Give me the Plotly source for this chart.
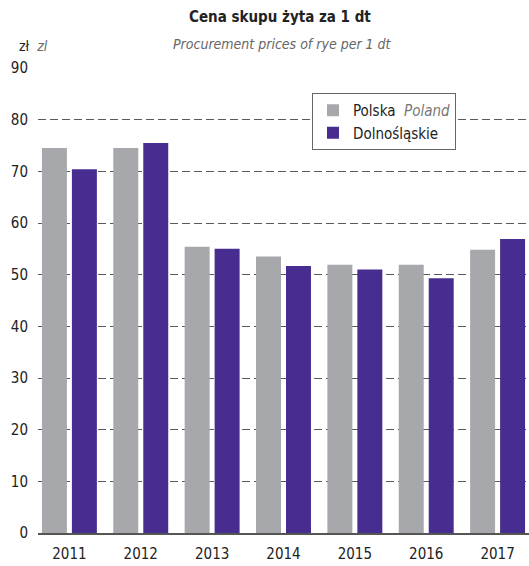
import plotly.graph_objects as go

years = ["2011", "2012", "2013", "2014", "2015", "2016", "2017"]
polska = [74.5, 74.5, 55.4, 53.5, 51.9, 51.9, 54.8]
dolnoslaskie = [70.4, 75.5, 55.0, 51.7, 51.0, 49.3, 56.9]
y_ticks = [0, 10, 20, 30, 40, 50, 60, 70, 80, 90]

FONT = "DejaVu Sans Condensed, DejaVu Sans, sans-serif"
GRAY = "#A7A8AB"
PURPLE = "#472D90"

xpos = list(range(len(years)))

fig = go.Figure()
fig.add_trace(go.Bar(
    x=xpos, y=polska, name='Polska  <span style="color:#777777"><i>Poland</i></span>',
    marker=dict(color=GRAY, line=dict(width=0)),
    width=0.35, offset=-0.385,
))
fig.add_trace(go.Bar(
    x=xpos, y=dolnoslaskie, name="Dolnośląskie",
    marker=dict(color=PURPLE, line=dict(width=0)),
    width=0.35, offset=0.035,
))

pw = 529 - 38
ph = 566 - 68 - 33

fig.update_layout(
    width=529, height=566,
    margin=dict(l=38, r=0, t=68, b=33, autoexpand=False),
    paper_bgcolor="white", plot_bgcolor="white",
    barmode="overlay",
    showlegend=True,
    font=dict(family=FONT, size=15, color="#222222"),
    legend=dict(
        x=(312 - 38) / pw, y=1 - (93 - 68) / ph, xanchor="left", yanchor="top",
        bgcolor="white", bordercolor="#666666", borderwidth=1,
        font=dict(family=FONT, size=15, color="#222222"),
        tracegroupgap=2, itemwidth=30,
    ),
    xaxis=dict(
        tickmode="array", tickvals=xpos, ticktext=years,
        range=[-0.44, 6.44], automargin=False,
        showgrid=False, zeroline=False,
        showline=True, linecolor="#555555", linewidth=1.5,
        ticks="", tickfont=dict(family=FONT, size=15, color="#222222"),
        ticklabelstandoff=6,
    ),
    yaxis=dict(
        range=[0, 90], tickvals=y_ticks, automargin=False,
        showgrid=True, gridcolor="#5a5a5a", gridwidth=1.3, griddash="8px,4px",
        zeroline=False, showline=False, ticks="",
        tickfont=dict(family=FONT, size=15, color="#222222"),
        ticklabelstandoff=9,
    ),
)

fig.add_annotation(
    text="<b>Cena skupu żyta za 1 dt</b>", xref="paper", yref="paper",
    x=(280 - 38) / pw, y=1 + (68 - 17) / ph, xanchor="center", yanchor="middle",
    showarrow=False, font=dict(family=FONT, size=15, color="#222222"),
)
fig.add_annotation(
    text="<i>Procurement prices of rye per 1 dt</i>", xref="paper", yref="paper",
    x=(282 - 38) / pw, y=1 + (68 - 44) / ph, xanchor="center", yanchor="middle",
    showarrow=False, font=dict(family=FONT, size=14, color="#666666"),
)
fig.add_annotation(
    text='zł  <span style="color:#666666"><i>zl</i></span>', xref="paper", yref="paper",
    x=(17 - 38) / pw, y=1 + (68 - 46) / ph, xanchor="left", yanchor="middle",
    showarrow=False, font=dict(family=FONT, size=14, color="#222222"),
)

fig.write_html("out.html", config={"displayModeBar": False},
               post_script="document.body.style.margin='0';")
